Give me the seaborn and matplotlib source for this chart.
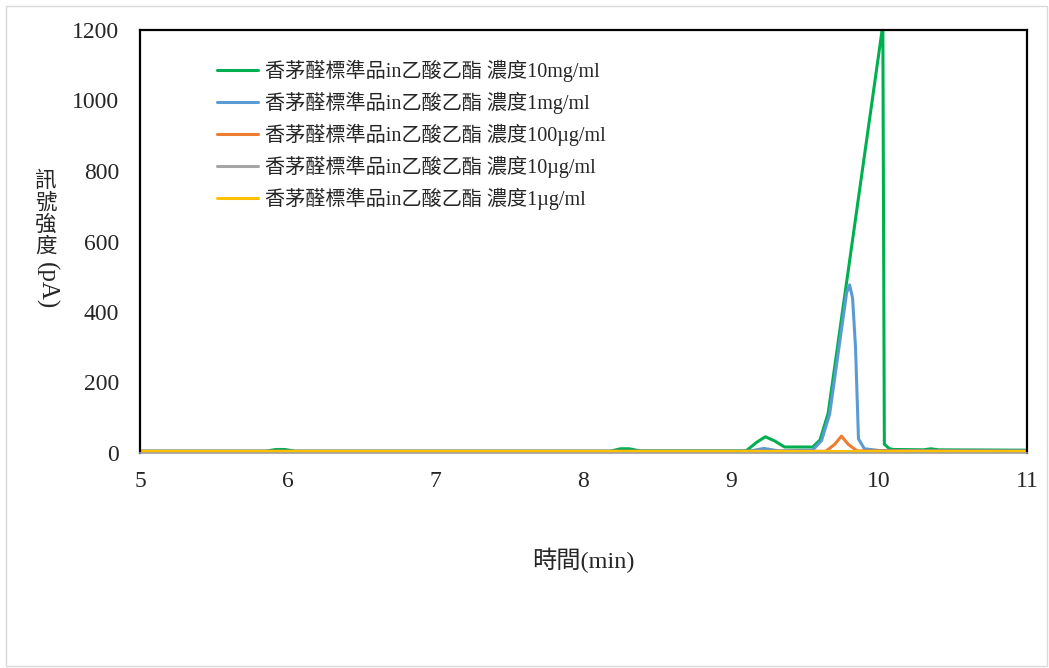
import matplotlib
matplotlib.use("Agg")
import matplotlib.pyplot as plt
import seaborn as sns
import pandas as pd
from matplotlib.patches import Rectangle

# ---- data ----
labels = [
    "香茅醛標準品in乙酸乙酯 濃度10mg/ml",
    "香茅醛標準品in乙酸乙酯 濃度1mg/ml",
    "香茅醛標準品in乙酸乙酯 濃度100µg/ml",
    "香茅醛標準品in乙酸乙酯 濃度10µg/ml",
    "香茅醛標準品in乙酸乙酯 濃度1µg/ml",
]
colors = ["#00B050", "#5B9BD5", "#ED7D31", "#A5A5A5", "#FFC000"]

green_t = [5.0, 5.85, 5.92, 5.98, 6.05, 8.18, 8.25, 8.31, 8.38, 9.1, 9.17, 9.23, 9.29,
           9.36, 9.55, 9.60, 9.655, 10.02, 10.025, 10.035, 10.07, 10.1, 10.3, 10.35, 10.4, 11.0]
green_v = [5, 5, 10, 10, 5, 5, 12, 12, 6, 6, 30, 46, 35,
           17, 17, 37, 113, 1200, 1200, 25, 12, 10, 9, 12, 9, 8]

blue_t = [5.0, 9.12, 9.22, 9.32, 9.55, 9.61, 9.665, 9.78, 9.80, 9.82, 9.84, 9.86, 9.9, 10.0, 11.0]
blue_v = [5, 5, 13, 6, 8, 35, 110, 455, 477, 440, 300, 40, 12, 7, 6]

orange_t = [5.0, 9.64, 9.70, 9.745, 9.79, 9.85, 11.0]
orange_v = [5, 5, 25, 48, 25, 6, 5]

gray_t = [5.0, 11.0]
gray_v = [1, 1]

yellow_t = [5.0, 11.0]
yellow_v = [5, 5]

series_t = [green_t, blue_t, orange_t, gray_t, yellow_t]
series_v = [green_v, blue_v, orange_v, gray_v, yellow_v]

x_ticks = [5, 6, 7, 8, 9, 10, 11]
y_ticks = [0, 200, 400, 600, 800, 1000, 1200]

# ---- figure ----
sns.set_style("white")
plt.rcParams["font.family"] = ["Liberation Serif", "Noto Sans CJK TC", "DejaVu Sans"]

W, H = 1049, 668
fig = plt.figure(figsize=(W / 100, H / 100), dpi=100)
fig.patches.append(Rectangle((6 / W, 2 / H), (W - 8) / W, (H - 8) / H,
                             transform=fig.transFigure, fill=False,
                             edgecolor="#D9D9D9", linewidth=1.0))

ax = fig.add_axes([140 / W, 1 - 453 / H, (1027 - 140) / W, (453 - 30) / H])

for t, v, c, lab in zip(series_t, series_v, colors, labels):
    df = pd.DataFrame({"t": t, "v": v})
    sns.lineplot(data=df, x="t", y="v", ax=ax, color=c, linewidth=2.2,
                 label=lab, estimator=None, sort=False)

ax.set_xlim(5, 11)
ax.set_ylim(0, 1200)
ax.set_xticks(x_ticks)
ax.set_yticks(y_ticks)
ax.set_xticklabels([str(x) for x in x_ticks], fontsize=17)
ax.set_yticklabels([str(y) for y in y_ticks], fontsize=17)
ax.tick_params(axis="both", length=0)
ax.tick_params(axis="y", pad=15)
ax.tick_params(axis="x", pad=13)
ax.set_xlabel("")
ax.set_ylabel("")

for s in ["left", "top", "right"]:
    ax.spines[s].set_color("black")
    ax.spines[s].set_linewidth(1.6)
ax.spines["bottom"].set_color("#A0A0A0")
ax.spines["bottom"].set_linewidth(1.2)

leg = ax.legend(loc="upper left", bbox_to_anchor=(0.078, 0.948), frameon=False,
                fontsize=14.5, handlelength=2.0, handletextpad=0.35,
                labelspacing=0.48, borderaxespad=0)

# axis titles
fig.text(46 / W, 1 - 170 / H, "訊\n號\n強\n度", ha="center", va="top",
         fontsize=15.5, linespacing=1.0, family=["Noto Sans CJK TC"])
fig.text(46 / W, 1 - 262 / H, "(pA)", ha="center", va="top", rotation=-90,
         fontsize=18)
fig.text(583 / W, 1 - 560 / H, "時間(min)", ha="center", va="center", fontsize=17.5)

fig.savefig("out.png", dpi=100)
